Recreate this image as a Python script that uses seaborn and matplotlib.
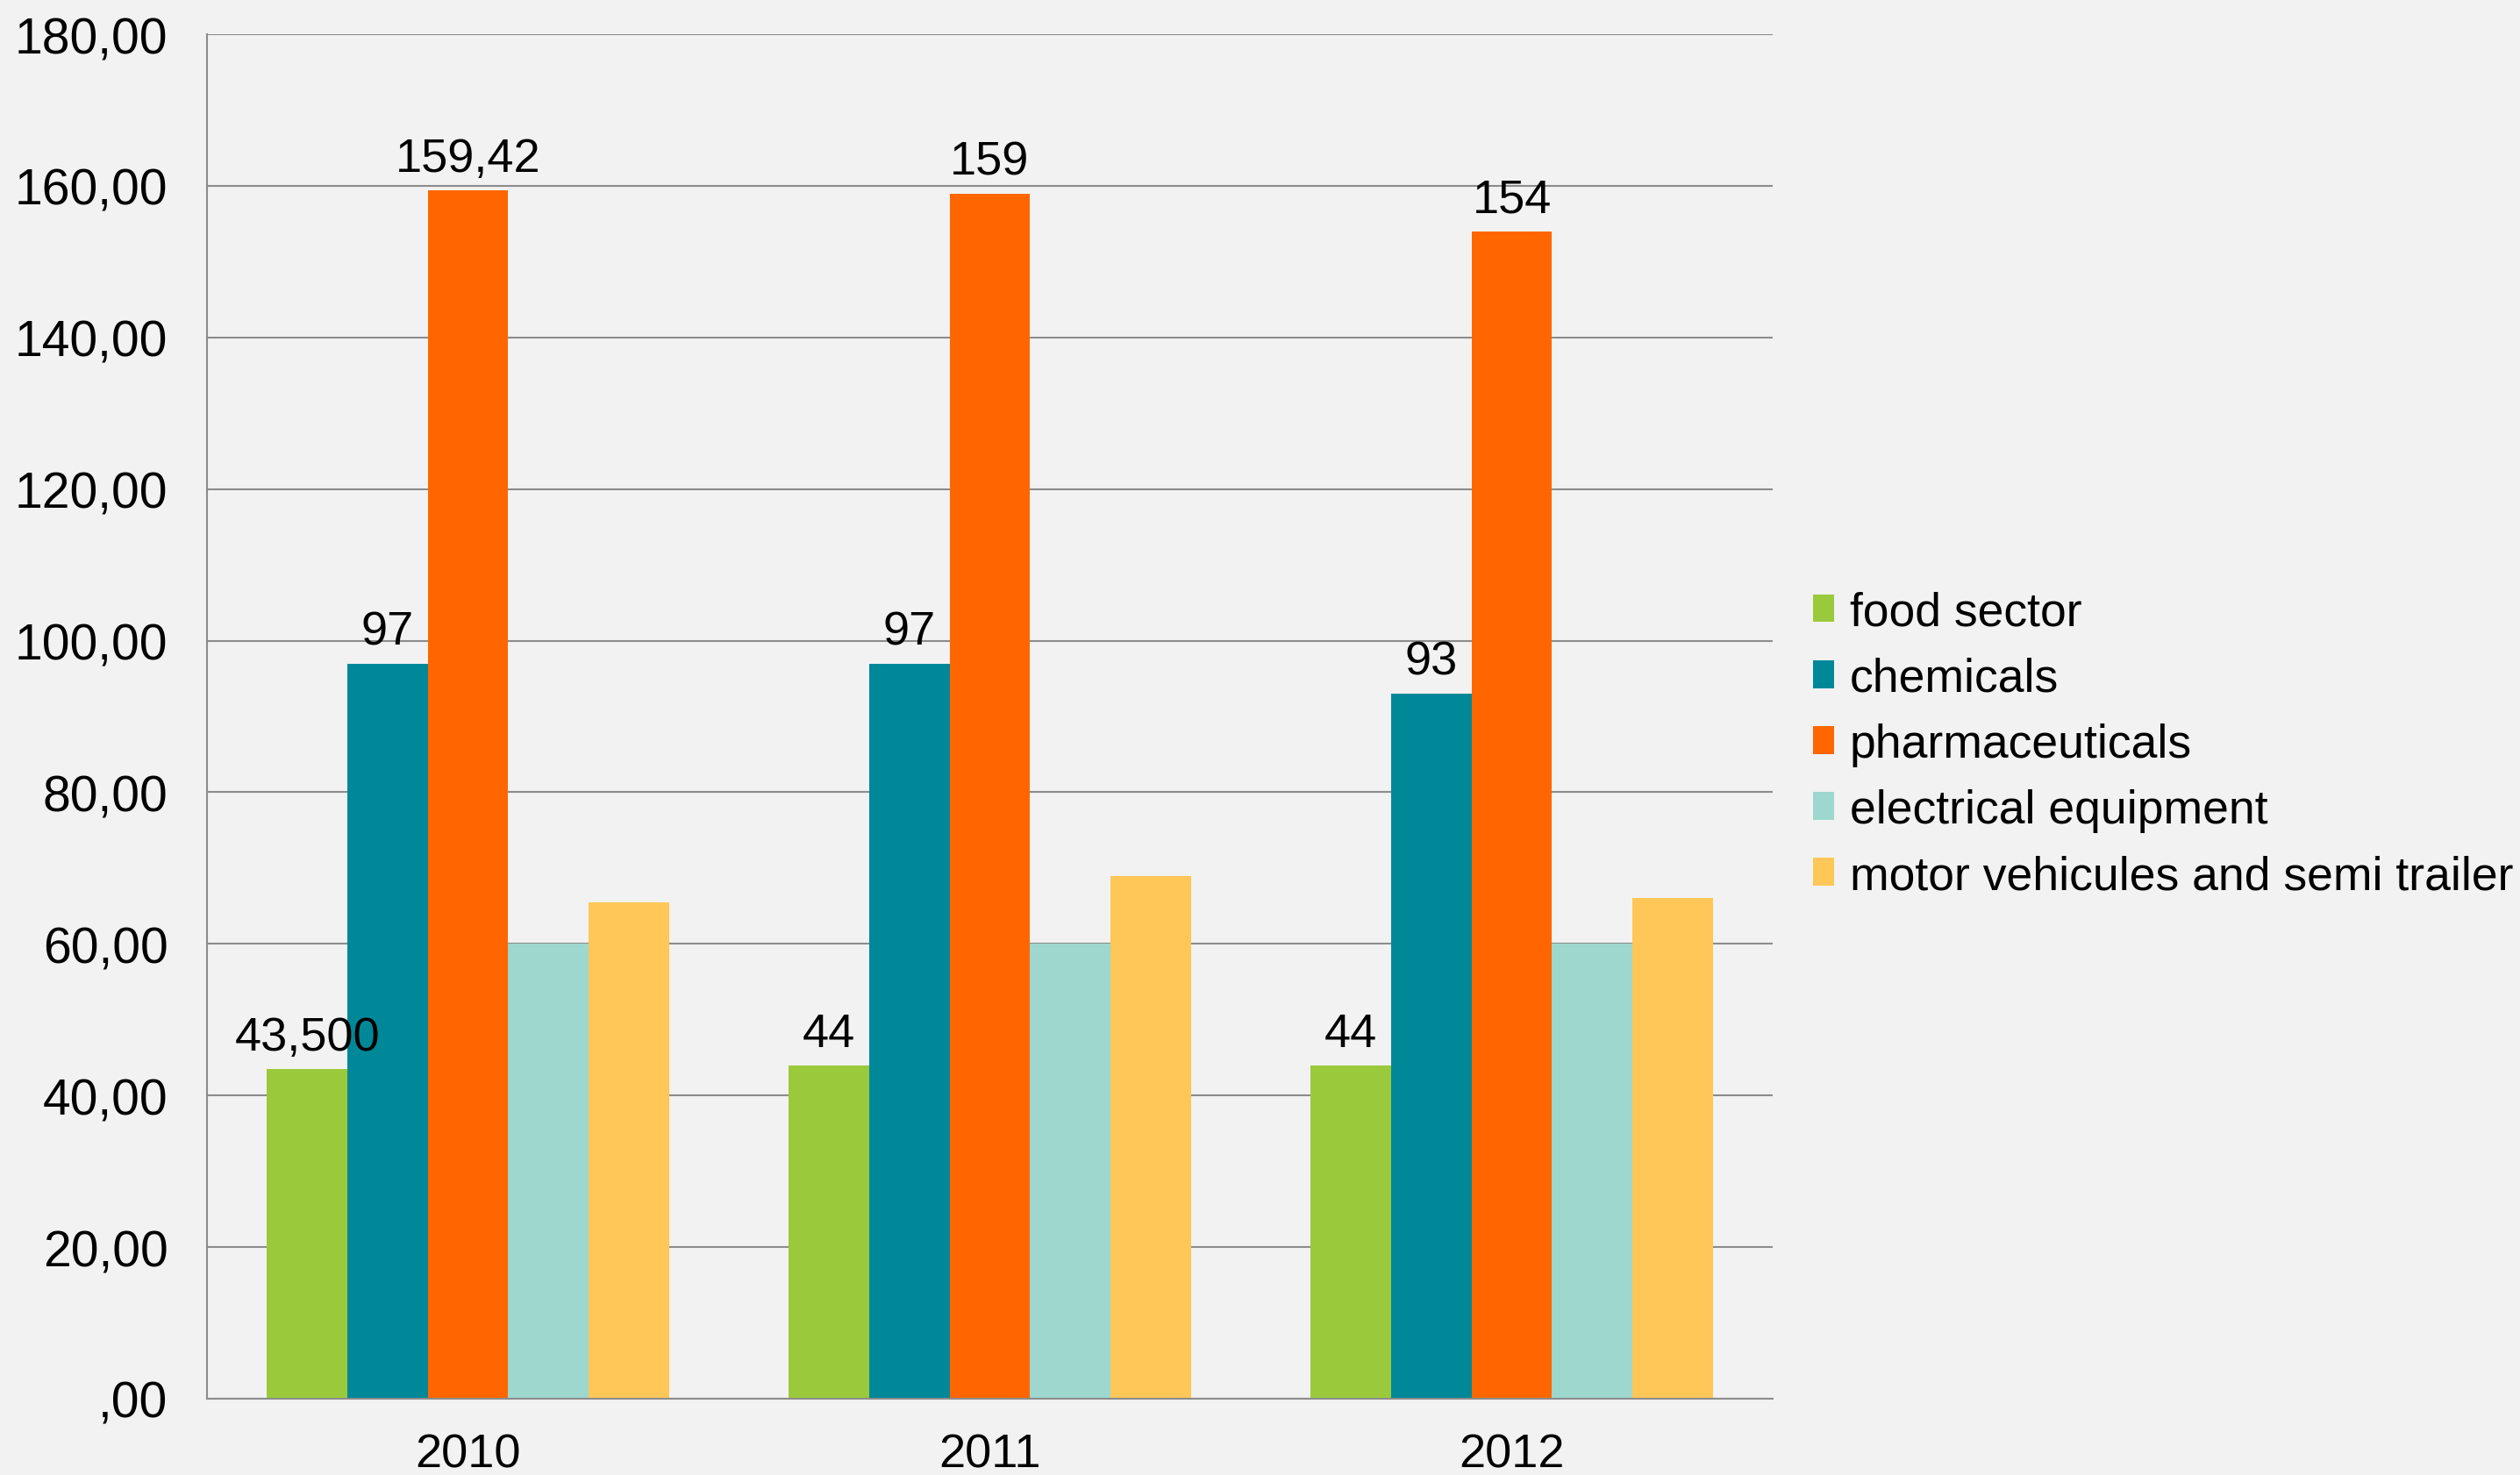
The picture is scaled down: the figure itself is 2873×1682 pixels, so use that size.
import matplotlib
matplotlib.use("Agg")
import matplotlib.pyplot as plt
import matplotlib.patches as mpatches
import seaborn as sns
import pandas as pd

# Chart data
years = ["2010", "2011", "2012"]
sectors = ["food sector", "chemicals", "pharmaceuticals",
           "electrical equipment", "motor vehicules and semi trailer"]
food_sector = [43.5, 44, 44]
chemicals = [97, 97, 93]
pharmaceuticals = [159.42, 159, 154]
electrical_equipment = [60, 60, 60]
motor_vehicules = [65.5, 69, 66]

food_labels = ["43,500", "44", "44"]
chemicals_labels = ["97", "97", "93"]
pharma_labels = ["159,42", "159", "154"]

y_ticks = [0, 20, 40, 60, 80, 100, 120, 140, 160, 180]
y_tick_labels = [",00", "20,00", "40,00", "60,00", "80,00",
                 "100,00", "120,00", "140,00", "160,00", "180,00"]

colors = ["#9BC93C", "#008899", "#FF6600", "#9DD7CE", "#FFC658"]

series = [food_sector, chemicals, pharmaceuticals, electrical_equipment, motor_vehicules]
rows = []
for name, vals in zip(sectors, series):
    for yr, v in zip(years, vals):
        rows.append({"year": yr, "sector": name, "value": v})
df = pd.DataFrame(rows)

sns.set_theme(style="white")
plt.rcParams["font.family"] = ["Liberation Sans", "DejaVu Sans"]

BG = "#F2F2F2"
GRID = "#8C8C8C"
FS = 39
FS_Y = 41
FS_LEG = 38.5

fig = plt.figure(figsize=(28.73, 16.83), dpi=100, facecolor=BG)
ax = fig.add_axes([0.0821, 0.0517, 0.6214, 0.9245])
ax.set_facecolor(BG)

sns.barplot(data=df, x="year", y="value", hue="sector", order=years,
            hue_order=sectors, palette=colors, width=0.77, saturation=1,
            linewidth=0, ax=ax, legend=False, errorbar=None)

# value labels above the first three series
for cont, labs in zip(ax.containers[:3], [food_labels, chemicals_labels, pharma_labels]):
    ax.bar_label(cont, labels=labs, padding=8, fontsize=FS, color="black")

ax.set_ylim(0, 180)
ax.set_xlim(-0.5, 2.5)
ax.set_yticks(y_ticks)
ax.set_yticklabels(y_tick_labels)
ax.yaxis.grid(True, color=GRID, linewidth=1.5)
ax.set_axisbelow(True)

# category boundary tick marks, labels centred on the groups
ax.set_xticks([0, 1, 2])
ax.set_xticks([-0.5, 0.5, 1.5, 2.5], minor=True)
ax.tick_params(axis="x", which="major", length=0, pad=28, labelsize=FS, labelcolor="black")
ax.tick_params(axis="x", which="minor", length=12, width=1.5, color=GRID)
ax.tick_params(axis="y", length=12, width=1.5, color=GRID, pad=20, labelsize=FS_Y, labelcolor="black")
ax.set_xlabel("")
ax.set_ylabel("")

for side in ["top", "right"]:
    ax.spines[side].set_visible(False)
for side in ["left", "bottom"]:
    ax.spines[side].set_color(GRID)
    ax.spines[side].set_linewidth(1.5)

handles = [mpatches.Patch(facecolor=c, edgecolor="none", label=s) for c, s in zip(colors, sectors)]
fig.legend(handles=handles, loc="center left", bbox_to_anchor=(0.7195, 0.495),
           frameon=False, fontsize=FS_LEG, labelcolor="black", handlelength=0.45,
           handleheight=0.53, handletextpad=0.33, labelspacing=0.47,
           borderaxespad=0, borderpad=0)

fig.savefig("out.png", dpi=100, facecolor=BG)
